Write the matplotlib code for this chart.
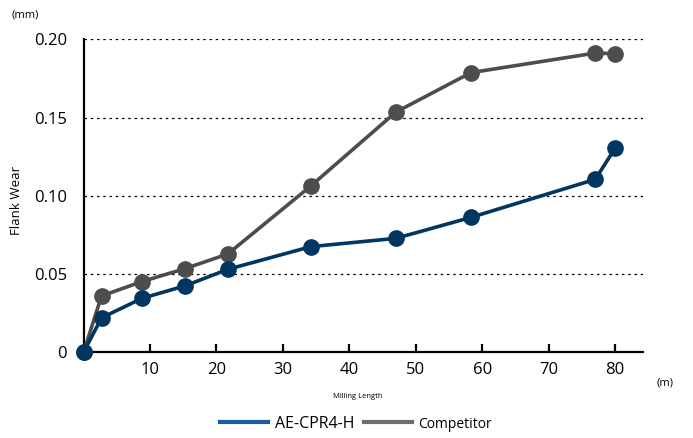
from matplotlib import pyplot as plt
from matplotlib.lines import Line2D

# milling length (m) and flank wear (mm)
length = [0, 2.7, 8.8, 15.3, 21.7, 34.2, 47.0, 58.3, 77.0, 80.0]
wear_ae = [0, 0.022, 0.0345, 0.0425, 0.053, 0.0675, 0.0728, 0.0862, 0.1105, 0.1305]
wear_comp = [0, 0.036, 0.0452, 0.0535, 0.0628, 0.1063, 0.1535, 0.1787, 0.1912, 0.1908]
yticks = [0, 0.05, 0.10, 0.15, 0.20]
ylabels = ["0", "0.05", "0.10", "0.15", "0.20"]
xticks = [10, 20, 30, 40, 50, 60, 70, 80]

plt.rcParams['font.family'] = ['Open Sans', 'DejaVu Sans']

fig = plt.figure(figsize=(6.93, 4.38), dpi=100)
ax = fig.add_axes([0.1206, 0.1957, 0.8074, 0.7146])

ax.plot(length, wear_comp, color="#4d4d4d", lw=2.6, marker="o", ms=11, clip_on=False, zorder=3)
ax.plot(length, wear_ae, color="#003660", lw=2.6, marker="o", ms=11, clip_on=False, zorder=4)

ax.set_xlim(0, 84.2)
ax.set_ylim(0, 0.2)
ax.set_yticks(yticks)
ax.set_yticklabels(ylabels)
ax.set_xticks(xticks)
for y in yticks[1:]:
    ax.axhline(y, color="black", lw=0.9, ls=(0, (2, 3)), zorder=1)

for s in ["top", "right"]:
    ax.spines[s].set_visible(False)
ax.spines["left"].set_linewidth(1.6)
ax.spines["bottom"].set_linewidth(1.6)
ax.tick_params(axis="x", direction="in", length=6, width=1.6, labelsize=12, pad=7)
ax.tick_params(axis="y", length=0, labelsize=12, pad=12)

fig.text(25 / 693, 1 - 15 / 438, "(mm)", fontsize=8, ha="center", va="center")
fig.text(17 / 693, 1 - 200 / 438, "Flank Wear", fontsize=9.5, rotation=90, ha="center", va="center")
fig.text(665 / 693, 1 - 383 / 438, "(m)", fontsize=8, ha="center", va="center")
fig.text(358 / 693, 1 - 396 / 438, "Milling Length", fontsize=5.5, ha="center", va="center")

handles = [Line2D([], [], color="#1a5c9e", lw=3), Line2D([], [], color="#6e6e6e", lw=3)]
leg = fig.legend(handles, ["AE-CPR4-H", "Competitor"], loc="center", bbox_to_anchor=(356 / 693, 14 / 438),
                 ncol=2, frameon=False, handlelength=3.0, handletextpad=0.4, columnspacing=0.6, fontsize=11.5)
leg.get_texts()[1].set_fontsize(10)

fig.savefig("out.png", dpi=100)
